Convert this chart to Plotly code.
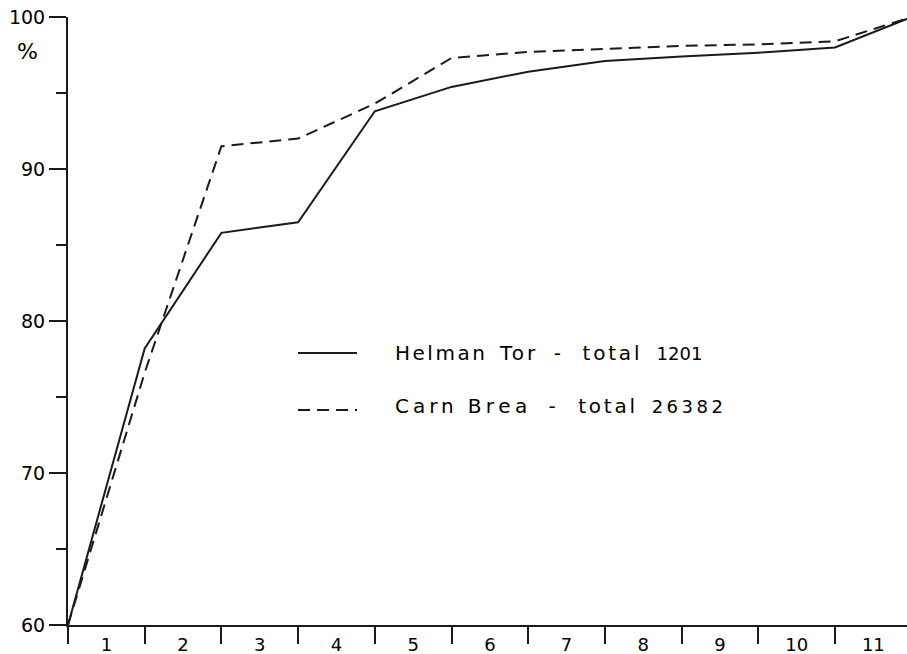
import plotly.graph_objects as go

# ---- data ----
steps = [0, 1, 2, 3, 4, 5, 6, 7, 8, 9, 10, 11]
helman_tor = [60, 78.2, 85.8, 86.5, 93.8, 95.4, 96.4, 97.1, 97.4, 97.65, 98.0, 100]
carn_brea = [60, 76.6, 91.5, 92.0, 94.3, 97.3, 97.7, 97.9, 98.1, 98.2, 98.4, 100]
x_label_pos = [0.5, 1.5, 2.5, 3.5, 4.5, 5.5, 6.5, 7.5, 8.5, 9.5, 10.5]
x_labels = ["1", "2", "3", "4", "5", "6", "7", "8", "9", "10", "11"]
x_tick_pos = [0, 1, 2, 3, 4, 5, 6, 7, 8, 9, 10, 11]
y_major = [60, 70, 80, 90, 100]
y_minor = [65, 75, 85, 95]


def sp(text, ls, size=None):
    style = "letter-spacing:%spx" % ls
    if size:
        style += ";font-size:%spx" % size
    return '<span style="%s">%s</span>' % (style, text)


NB = "\u00a0"
legend_names = [
    sp("Helman", 2.5) + sp(NB, 6.3) + sp("Tor", 3) + sp(NB, 9.1) + sp("-", 0)
    + sp(NB, 15.2) + sp("total", 2.8) + sp(NB, 7.9) + sp("1201", 0, 18),
    sp("Carn", 4) + sp(NB, 3.5) + sp("Brea", 4.5) + sp(NB, 10.3) + sp("-", 0)
    + sp(NB, 16.2) + sp("total", 2.8) + sp(NB, 7.4) + sp("26382", 3.5, 18),
]

FONT = "DejaVu Sans"
INK = "#1a1a1a"

fig = go.Figure()
fig.add_trace(go.Scatter(x=steps, y=helman_tor, mode="lines",
                         line=dict(color=INK, width=2), showlegend=False))
fig.add_trace(go.Scatter(x=steps, y=carn_brea, mode="lines",
                         line=dict(color=INK, width=2, dash="12px,7px"),
                         showlegend=False))

W, H = 907, 654
L, T, B = 68, 17, 29
R = 0
plot_w = W - L - R
plot_h = H - T - B

fig.update_layout(
    width=W, height=H,
    margin=dict(l=L, r=R, t=T, b=B, pad=0),
    paper_bgcolor="white", plot_bgcolor="white",
    font=dict(family=FONT, size=19, color="black"),
    xaxis=dict(
        range=[0, plot_w / 76.7],
        automargin=False,
        showgrid=False, zeroline=False,
        showline=True, linecolor=INK, linewidth=2,
        tickmode="array", tickvals=x_label_pos, ticktext=x_labels,
        ticks="", ticklabelstandoff=2,
        tickfont=dict(family=FONT, size=18, color="black"),
        minor=dict(tickmode="array", tickvals=x_tick_pos, ticks="outside",
                   ticklen=17, tickwidth=2, tickcolor=INK, showgrid=False),
    ),
    yaxis=dict(
        range=[60, 100],
        automargin=False,
        showgrid=False, zeroline=False,
        showline=True, linecolor=INK, linewidth=2,
        tickmode="array", tickvals=y_major,
        ticks="outside", ticklen=17, tickwidth=2, tickcolor=INK,
        tickfont=dict(family=FONT, size=19, color="black"),
        minor=dict(tickmode="array", tickvals=y_minor, ticks="outside",
                   ticklen=10, tickwidth=2, tickcolor=INK, showgrid=False),
    ),
)

# "%" unit label under the top tick
fig.add_annotation(text="%", xref="paper", yref="paper",
                   x=(27 - L) / plot_w, y=1 - (52 - T) / plot_h,
                   xanchor="center", yanchor="middle", showarrow=False,
                   font=dict(family=FONT, size=22, color="black"))

# legend (drawn as decoration in paper coordinates)
leg_line_y = [353, 410]
leg_text_y = [353, 406]
dashes = ["solid", "12px,7px"]
for name, ly, ty, dsh in zip(legend_names, leg_line_y, leg_text_y, dashes):
    py = 1 - (ly - T) / plot_h
    fig.add_shape(type="line", xref="paper", yref="paper",
                  x0=(298 - L) / plot_w, x1=(357 - L) / plot_w, y0=py, y1=py,
                  line=dict(color=INK, width=2, dash=dsh))
    fig.add_annotation(text=name, xref="paper", yref="paper",
                       x=(393 - L) / plot_w, y=1 - (ty - T) / plot_h,
                       xanchor="left", yanchor="middle", showarrow=False,
                       font=dict(family=FONT, size=20, color="black"))

fig.write_html("out.html")
